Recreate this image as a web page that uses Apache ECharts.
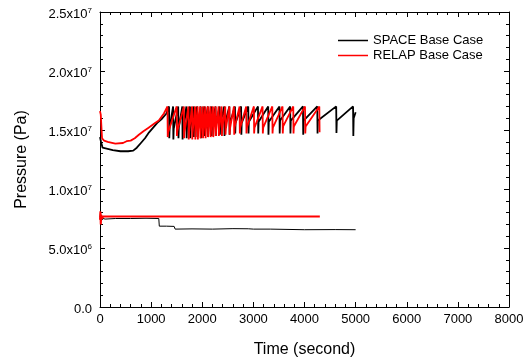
<!DOCTYPE html>
<html>
<head>
<meta charset="utf-8">
<script src="https://cdn.jsdelivr.net/npm/echarts@6/dist/echarts.min.js"></script>
<style>html,body{margin:0;padding:0;background:#fff;}#c{width:529px;height:363px;}</style>
</head>
<body>
<div id="c"></div>
<script>
// Tick labels
var xTicks = ['0','1000','2000','3000','4000','5000','6000','7000','8000'];
var yMantissa = ['0.0','5.0','1.0','1.5','2.0','2.5'];
var yExponent = ['','6','7','7','7','7'];

// SPACE Base Case, upper trace (time s, pressure Pa)
var spaceHigh = [
  [0,14.4e6],[20,14.0e6],[50,13.5e6],[80,13.4e6],[150,13.4e6],[250,13.3e6],[400,13.2e6],[550,13.2e6],[650,13.25e6],
  [720,13.5e6],[800,13.9e6],[880,14.3e6],[960,14.8e6],[1040,15.2e6],[1120,15.6e6],[1200,15.9e6],[1300,16.4e6],
  [1350,17.0e6],[1355,14.3e6],[1362,15.2e6],
  [1430,17.0e6],[1435,14.2e6],[1442,15.1e6],
  [1530,17.0e6],[1535,14.3e6],[1542,15.2e6],
  [1610,17.0e6],[1615,14.2e6],[1622,15.1e6],
  [1690,17.0e6],[1695,14.3e6],[1702,15.2e6],
  [1760,17.0e6],[1765,14.3e6],[1772,15.2e6],
  [1830,17.0e6],[1835,14.4e6],[1842,15.3e6],
  [1900,17.0e6],[1905,14.4e6],[1912,15.3e6],
  [1970,17.0e6],[1975,14.3e6],[1982,15.3e6],
  [2040,17.0e6],[2045,14.5e6],[2052,15.4e6],
  [2110,17.0e6],[2115,14.4e6],[2122,15.4e6],
  [2180,17.0e6],[2185,14.5e6],[2192,15.4e6],
  [2260,17.0e6],[2265,14.5e6],[2272,15.5e6],
  [2340,17.0e6],[2345,14.6e6],[2352,15.5e6],
  [2430,17.0e6],[2435,14.5e6],[2442,15.5e6],
  [2530,17.0e6],[2535,14.6e6],[2542,15.6e6],
  [2640,17.0e6],[2645,14.7e6],[2652,15.6e6],
  [2760,17.0e6],[2765,14.6e6],[2772,15.6e6],
  [2900,17.0e6],[2905,14.7e6],[2912,15.7e6],
  [3090,17.0e6],[3095,14.7e6],[3102,15.7e6],
  [3290,17.0e6],[3295,14.6e6],[3302,15.7e6],
  [3510,17.0e6],[3515,14.7e6],[3522,15.8e6],
  [3720,17.0e6],[3725,14.7e6],[3732,15.8e6],
  [3970,17.0e6],[3975,14.6e6],[3982,15.8e6],
  [4250,17.0e6],[4255,14.7e6],[4262,15.8e6],
  [4620,17.0e6],[4625,14.75e6],[4632,15.8e6],
  [4950,17.0e6],[4955,14.5e6],[4962,16.0e6],[5000,16.5e6]
];

// RELAP Base Case, upper trace
var relapHigh = [
  [0,16.6e6],[15,16.3e6],[40,14.3e6],[80,14.1e6],[150,14.0e6],[300,13.85e6],[450,13.9e6],[520,14.05e6],[600,14.1e6],
  [680,14.3e6],[760,14.6e6],[850,14.9e6],[950,15.2e6],[1050,15.5e6],[1150,15.8e6],[1250,16.4e6],
  [1320,17.0e6],[1325,14.4e6],[1332,14.8e6],
  [1500,17.0e6],[1505,14.5e6],[1512,14.9e6],
  [1640,17.0e6],[1645,14.3e6],[1652,14.8e6],
  [1730,17.0e6],[1735,14.2e6],[1742,14.8e6],
  [1800,17.0e6],[1805,14.2e6],[1812,14.8e6],
  [1860,17.0e6],[1865,14.2e6],[1872,14.8e6],
  [1910,17.0e6],[1915,14.2e6],[1922,14.9e6],
  [1960,17.0e6],[1965,14.3e6],[1972,14.9e6],
  [2010,17.0e6],[2015,14.3e6],[2022,14.9e6],
  [2060,17.0e6],[2065,14.3e6],[2072,15.0e6],
  [2110,17.0e6],[2115,14.4e6],[2122,15.0e6],
  [2160,17.0e6],[2165,14.4e6],[2172,15.0e6],
  [2210,17.0e6],[2215,14.4e6],[2222,15.0e6],
  [2260,17.0e6],[2265,14.5e6],[2272,15.0e6],
  [2320,17.0e6],[2325,14.5e6],[2332,15.1e6],
  [2380,17.0e6],[2385,14.5e6],[2392,15.1e6],
  [2450,17.0e6],[2455,14.6e6],[2462,15.1e6],
  [2530,17.0e6],[2535,14.6e6],[2542,15.1e6],
  [2620,17.0e6],[2625,14.6e6],[2632,15.2e6],
  [2730,17.0e6],[2735,14.7e6],[2742,15.2e6],
  [2860,17.0e6],[2865,14.7e6],[2872,15.2e6],
  [3010,17.0e6],[3015,14.7e6],[3022,15.2e6],
  [3180,17.0e6],[3185,14.7e6],[3192,15.2e6],
  [3370,17.0e6],[3375,14.7e6],[3382,15.2e6],
  [3570,17.0e6],[3575,14.7e6],[3582,15.3e6],
  [3780,17.0e6],[3785,14.7e6],[3792,15.3e6],
  [4010,17.0e6],[4015,14.7e6],[4022,15.3e6],
  [4290,17.0e6],[4295,14.8e6]
];

// SPACE Base Case, lower trace
var spaceLow = [
  [0,7.6e6],[10,8.0e6],[25,7.3e6],[40,7.2e6],[60,7.5e6],[100,7.45e6],[300,7.5e6],[600,7.5e6],[900,7.52e6],
  [1150,7.5e6],[1160,6.85e6],[1300,6.85e6],[1450,6.83e6],[1470,6.6e6],[1800,6.62e6],[2200,6.6e6],[2600,6.64e6],
  [2900,6.63e6],[3000,6.6e6],[3330,6.6e6],[3360,6.55e6],[4000,6.55e6],[4600,6.56e6],[5000,6.55e6]
];

// RELAP Base Case, lower trace
var relapLow = [
  [0,7.4e6],[8,8.1e6],[15,7.0e6],[25,7.8e6],[40,7.5e6],[60,7.67e6],[500,7.67e6],[1500,7.68e6],[2500,7.67e6],
  [3500,7.66e6],[4300,7.67e6]
];

var FONT = 'Liberation Sans, Arial, sans-serif';
var chart = echarts.init(document.getElementById('c'));

function axisCommon() {
  return {
    axisLine: {show: true, onZero: false, lineStyle: {color: '#000', width: 1}},
    axisTick: {show: true, inside: true, length: 5, lineStyle: {color: '#000', width: 1}},
    minorTick: {show: true, splitNumber: 5, length: 3, lineStyle: {color: '#000', width: 1}},
    splitLine: {show: false},
    minorSplitLine: {show: false}
  };
}

var legendIcon = 'path://M0,0 L30,0 L30,1.5 L0,1.5 Z';

chart.setOption({
  animation: false,
  backgroundColor: '#fff',
  textStyle: {fontFamily: FONT},
  grid: {left: 100, right: 20, top: 12, bottom: 51, containLabel: false},
  legend: {
    orient: 'vertical', left: 333, top: 29, itemWidth: 30, itemHeight: 12, itemGap: 2,
    textStyle: {fontFamily: FONT, fontSize: 13, color: '#000'},
    data: [{name: 'SPACE Base Case', icon: legendIcon}, {name: 'RELAP Base Case', icon: legendIcon}]
  },
  xAxis: [
    Object.assign(axisCommon(), {
      type: 'value', min: 0, max: 8000, interval: 1000, position: 'bottom',
      name: 'Time (second)', nameLocation: 'middle', nameGap: 35,
      nameTextStyle: {fontFamily: FONT, fontSize: 16, color: '#000'},
      axisLabel: {show: true, margin: 6, fontFamily: FONT, fontSize: 13, color: '#000',
        formatter: function (v) { return xTicks[Math.round(v / 1000)]; }}
    }),
    Object.assign(axisCommon(), {
      type: 'value', min: 0, max: 8000, interval: 1000, position: 'top', axisLabel: {show: false}
    })
  ],
  yAxis: [
    Object.assign(axisCommon(), {
      type: 'value', min: 0, max: 2.5e7, interval: 5e6, position: 'left',
      name: 'Pressure (Pa)', nameLocation: 'middle', nameGap: 70, nameRotate: 90,
      nameTextStyle: {fontFamily: FONT, fontSize: 16, color: '#000'},
      axisLabel: {show: true, margin: 8, fontFamily: FONT, fontSize: 13, color: '#000',
        padding: [5, 0, 0, 0],
        formatter: function (v) {
          var i = Math.round(v / 5e6);
          if (!yExponent[i]) return '{a|' + yMantissa[i] + '}';
          return '{a|' + yMantissa[i] + 'x10}{b|' + yExponent[i] + '}';
        },
        rich: {
          a: {fontFamily: FONT, fontSize: 13, color: '#000'},
          b: {fontFamily: FONT, fontSize: 8, color: '#000', padding: [0, 0, 8, 0]}
        }
      }
    }),
    Object.assign(axisCommon(), {
      type: 'value', min: 0, max: 2.5e7, interval: 5e6, position: 'right', axisLabel: {show: false}
    })
  ],
  series: [
    {name: 'SPACE Base Case', type: 'line', data: spaceHigh, symbol: 'none', color: '#000',
      lineStyle: {color: '#000', width: 1.8}, xAxisIndex: 0, yAxisIndex: 0, z: 3},
    {name: 'RELAP Base Case', type: 'line', data: relapHigh, symbol: 'none', color: '#ff0000',
      lineStyle: {color: '#ff0000', width: 1.8}, xAxisIndex: 0, yAxisIndex: 0, z: 4},
    {name: 'SPACE Base Case', type: 'line', data: spaceLow, symbol: 'none', color: '#000',
      lineStyle: {color: '#000', width: 1}, xAxisIndex: 0, yAxisIndex: 0, z: 3},
    {name: 'RELAP Base Case', type: 'line', data: relapLow, symbol: 'none', color: '#ff0000',
      lineStyle: {color: '#ff0000', width: 2}, xAxisIndex: 0, yAxisIndex: 0, z: 4}
  ]
});
</script>
</body>
</html>
